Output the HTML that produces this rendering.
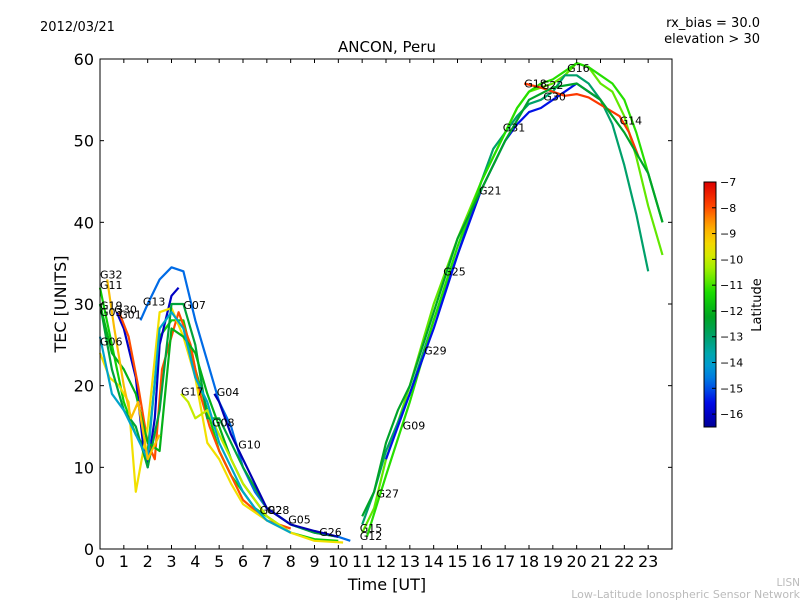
<!DOCTYPE html>
<html><head><meta charset="utf-8"><style>
body{margin:0;background:#fff;font-family:"Liberation Sans","DejaVu Sans",sans-serif}
svg text{font-family:"DejaVu Sans","Liberation Sans",sans-serif}
</style></head><body>
<svg id="c" width="800" height="600" viewBox="0 0 800 600" xmlns="http://www.w3.org/2000/svg">
<rect width="800" height="600" fill="#fff"/>
<text x="40" y="31" font-size="13">2012/03/21</text>
<text x="760" y="27" font-size="13" text-anchor="end">rx_bias = 30.0</text>
<text x="760" y="43" font-size="13" text-anchor="end">elevation &gt; 30</text>
<text x="387" y="52" font-size="15" text-anchor="middle">ANCON, Peru</text>
<text x="387" y="590" font-size="16" text-anchor="middle">Time [UT]</text>
<text transform="translate(66,304) rotate(-90)" font-size="16" text-anchor="middle">TEC [UNITS]</text>
<text x="800" y="586" font-size="10.5" fill="#bbb" text-anchor="end">LISN</text>
<text x="800" y="598" font-size="11" fill="#bbb" text-anchor="end">Low-Latitude Ionospheric Sensor Network</text>
<g id="plot"></g>
<g id="axes"></g>
<g id="cbar"></g>
</svg>
<script>
const xTicks=[0,1,2,3,4,5,6,7,8,9,10,11,12,13,14,15,16,17,18,19,20,21,22,23];
const yTicks=[0,10,20,30,40,50,60];
const cbTicks=[-7,-8,-9,-10,-11,-12,-13,-14,-15,-16];
const seriesLat=[-11.5,-14.8,-16,-8,-9.5,-12.5,-10.8,-13,-11.2,-15.5,-7.8,-12,-10,-14,-16.2,-9,-12.3];
const seriesT=[
[0,0.5,1,1.5,2,2.5,3,3.5,4,4.5,5,5.5,6,6.5,7,7.5,8,9,10],
[1.7,2,2.5,3,3.5,4,4.5,5,5.5,6,6.5,7,7.5,8,9,10,10.5],
[0.7,1,1.5,1.8,2,2.3,2.5,3,3.3],
[0.8,1.2,1.6,2,2.3,2.6,3.3,3.8,4.2,4.6,5,5.5,6,7,8],
[0,0.4,0.8,1.2,1.5,2,2.5,3,3.5,4,4.5,5,5.5,6,7,8,9,10.2],
[0,0.5,1,1.5,2,2.5,3,3.5,4,4.5,5,6,7,8,9,10],
[11,11.5,12,13,14,15,16,17,17.5,18,18.5,19,19.5,20,20.5,21,21.5,22,22.5,23,23.6],
[11,11.5,12,13,14,15,16,16.5,17,17.5,18,18.5,19,19.5,20,20.5,21,21.5,22,22.5,23,23.6],
[11.2,12,13,14,15,16,17,17.5,18,18.5,19,19.5,20,20.5,21,21.5,22,22.5,23,23.6],
[12,13,14,15,16,17,17.5,18,18.5,19,19.5,20,20.5,21],
[17.8,18.5,19,19.5,20,20.5,21.8,22.2,22.6],
[0,0.5,1,1.5,2,2.5,3,3.5,4,4.5,5,5.5,6,6.5,7],
[3.4,3.7,4,4.5,5,5.5,6,6.5,7,7.5,8],
[0,0.5,1,1.5,2,2.5,3,3.5,4,4.5,5,5.5,6,6.5,7,8],
[4.8,5,5.5,6,6.5,7,7.5,8,9,10],
[0.3,0.6,1,1.3,1.6,2,2.5],
[11,11.5,12,12.5,13,14,15,16,17,18,19,20,21,22,23,23.6]
];
const seriesV=[
[32,25,18,14,12,26,28,28,22,17,12,9,7,5,4,3,2,1.2,1],
[28,30,33,34.5,34,28,23,18,15,10,7,5,4,3,2,1.5,1],
[29,27,21,13,10,16,25,31,32],
[29,26,20,13,11,22,29,25,19,15,12,9,6,3.5,2.5],
[24,21,20,18,7,15,29,29.5,26,21,13,11,8,5.5,3.5,2,1,0.8],
[30,22,17,15,10,17,30,30,25,16,16,10,5,3,2,1.5],
[2,5,11,20,30,38,45,51,54,56,56.5,57,58,59.5,59,57,56,53,48,42,36],
[3,7,12,19,28,36,45,49,51,53,54.5,55,56,58,58,57,55,52,47,41,34],
[1.5,9,18,28,37,45,51,54,56,57,57.5,58.5,59.5,59,58,57,55,51,46,40],
[11,19,27,36,44,50,52,53.5,54,55,56,57,56,55],
[57,56.5,56,55.5,55.7,55.3,53,51,48],
[30,24,22,19,13,12,27,26,24,19,15,11,8,6,4],
[19,18,16,17,14,11,8,6,4,3,2],
[26,19,17,14,11,27,29,27,21,18,13,10,7,5,3.5,2],
[19,18,14,11,8,5,4,3,2.2,1.5],
[33,27,20,16,18,11,14],
[4,7,13,17,20,29,38,44,50,55,56.5,57,55,51,46,40]
];
const labelText=["G32","G11","G19","G03","G30","G01","G06","G13","G07","G17","G04","G08","G10","G02","G28","G05","G26","G15","G12","G27","G09","G29","G25","G21","G31","G18","G22","G30","G16","G14"];
const labelT=[0,0,0,0,0.6,0.8,0,1.8,3.5,3.4,4.9,4.7,5.8,6.7,7,7.9,9.2,10.9,10.9,11.6,12.7,13.6,14.4,15.9,16.9,17.8,18.5,18.6,19.6,21.8];
const labelV=[33.6,32.3,29.8,29,29.3,28.7,25.4,30.3,29.9,19.3,19.2,15.5,12.8,4.8,4.8,3.6,2.1,2.6,1.6,6.8,15.1,24.3,34,43.9,51.6,57,56.8,55.4,58.9,52.5];

const X0=100,X1=672,Y0=549,Y1=59,XMAX=24,YMAX=60;
const xs=t=>X0+t*(X1-X0)/XMAX, ys=v=>Y0-v*(Y0-Y1)/YMAX;
const CB0=-16.5,CB1=-7,CBT=182,CBB=427;
const cy=l=>CBB-(l-CB0)/(CB1-CB0)*(CBB-CBT);
const PAL=[[0,0,150],[0,0,230],[0,110,230],[0,170,200],[0,160,110],[0,165,30],[20,220,0],[150,240,0],[240,230,0],[255,170,0],[255,60,0],[220,0,0]];
function jet(t){t=Math.max(0,Math.min(1,t));const f=t*(PAL.length-1),i=Math.min(PAL.length-2,Math.floor(f)),u=f-i;const a=PAL[i],b=PAL[i+1];return `rgb(${Math.round(a[0]+(b[0]-a[0])*u)},${Math.round(a[1]+(b[1]-a[1])*u)},${Math.round(a[2]+(b[2]-a[2])*u)})`;}
const latColor=l=>jet((l-CB0)/(CB1-CB0));
const NS="http://www.w3.org/2000/svg";
function mk(tag,attrs,parent){const e=document.createElementNS(NS,tag);for(const k in attrs)e.setAttribute(k,attrs[k]);parent.appendChild(e);return e;}
const plot=document.getElementById('plot'),axes=document.getElementById('axes'),cb=document.getElementById('cbar');
seriesT.forEach((ts,i)=>{
  const pts=ts.map((t,j)=>xs(t).toFixed(1)+","+ys(seriesV[i][j]).toFixed(1)).join(" ");
  const p=mk('polyline',{points:pts,fill:'none',stroke:latColor(seriesLat[i]),'stroke-width':2.2,'stroke-linejoin':'round'},plot);
  
  
});
labelText.forEach((s,i)=>{
  const t=mk('text',{x:xs(labelT[i]),y:ys(labelV[i])+4,'font-size':11},plot);
  t.textContent=s;
  
  
});
const fr=mk('rect',{x:X0,y:Y1,width:X1-X0,height:Y0-Y1,fill:'none',stroke:'#000','stroke-width':1},axes);


xTicks.forEach(t=>{
  mk('line',{x1:xs(t),x2:xs(t),y1:Y0,y2:Y0-4,stroke:'#000'},axes);
  mk('line',{x1:xs(t),x2:xs(t),y1:Y1,y2:Y1+4,stroke:'#000'},axes);
  const l=mk('text',{x:xs(t),y:Y0+18,'font-size':16,'text-anchor':'middle'},axes);
  l.textContent=t;
  
  
});
yTicks.forEach(v=>{
  mk('line',{x1:X0,x2:X0+4,y1:ys(v),y2:ys(v),stroke:'#000'},axes);
  mk('line',{x1:X1,x2:X1-4,y1:ys(v),y2:ys(v),stroke:'#000'},axes);
  const l=mk('text',{x:X0-6,y:ys(v)+6,'font-size':16,'text-anchor':'end'},axes);
  l.textContent=v;
  
  
});
const defs=mk('defs',{},cb);
const g=mk('linearGradient',{id:'jg',x1:0,y1:1,x2:0,y2:0},defs);
for(let i=0;i<=20;i++)mk('stop',{offset:i/20,'stop-color':jet(i/20)},g);
const bar=mk('rect',{x:704,y:CBT,width:12,height:CBB-CBT,fill:'url(#jg)',stroke:'#000'},cb);


cbTicks.forEach(v=>{
  mk('line',{x1:712,x2:716,y1:cy(v),y2:cy(v),stroke:'#000'},cb);
  const l=mk('text',{x:720,y:cy(v)+4,'font-size':11},cb);
  l.textContent="\u2212"+Math.abs(v);
  
  
});
const cl=mk('text',{transform:'translate(761,305) rotate(-90)','font-size':13,'text-anchor':'middle'},cb);
cl.textContent="Latitude";


</script>
</body></html>
